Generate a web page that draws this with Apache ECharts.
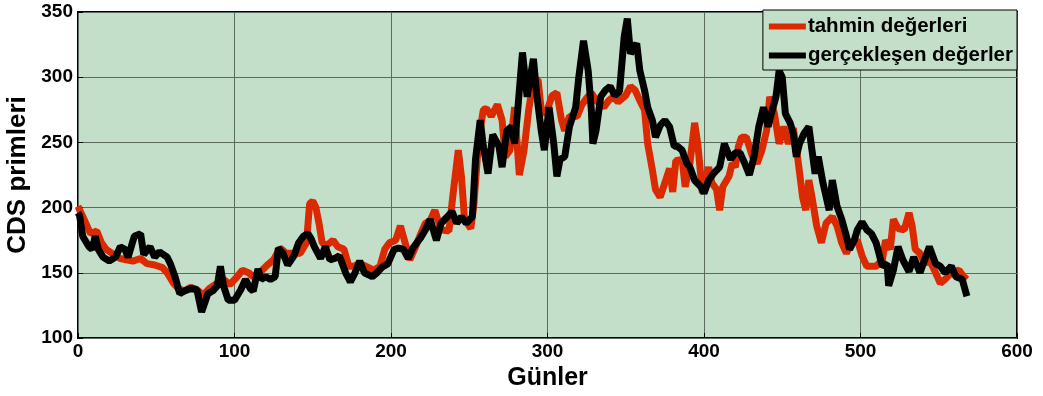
<!DOCTYPE html>
<html>

<head>
  <meta charset="utf-8" />
  <title></title>
  <script src="https://cdn.jsdelivr.net/npm/echarts@6/dist/echarts.min.js"></script>
</head>

<body style="margin:0;background:#fff;">
  <div id="main" style="width: 1043px;height:396px;"></div>
  <script type="text/javascript">
    // tahmin değerleri (red)
    var tahminDays = [0, 1, 5, 8, 12, 15, 18, 23, 27, 31, 35, 40, 44, 49, 54, 57, 61, 64, 68, 72, 76, 80, 84, 89, 93, 97, 101, 105, 109, 112, 116, 121, 125, 129, 133, 138, 142, 146, 148, 150, 152, 154, 156, 159, 163, 166, 170, 173, 176, 180, 184, 189, 193, 196, 199, 203, 206, 209, 212, 215, 219, 222, 225, 228, 232, 237, 240, 243, 245, 247, 251, 253, 256, 259, 261, 264, 268, 271, 273, 276, 279, 282, 285, 288, 291, 294, 296, 299, 303, 306, 309, 311, 314, 319, 322, 325, 328, 331, 336, 339, 342, 345, 350, 353, 356, 359, 362, 364, 367, 369, 372, 375, 378, 380, 382, 386, 388, 391, 394, 396, 399, 401, 403, 405, 408, 410, 412, 416, 418, 420, 422, 424, 427, 431, 434, 437, 440, 442, 445, 448, 451, 454, 457, 460, 463, 465, 467, 469, 472, 475, 478, 482, 485, 488, 491, 494, 498, 501, 504, 507, 510, 514, 516, 519, 521, 524, 528, 531, 533, 535, 538, 541, 544, 548, 551, 554, 558, 563, 566, 568];
    var tahminVals = [201, 200, 188, 180, 182, 173, 168, 164, 161, 160, 159, 161, 157, 156, 154, 150, 142, 138, 136, 139, 137, 133, 138, 142, 145, 141, 146, 152, 150, 147, 150, 156, 160, 169, 165, 165, 165, 173, 203, 205, 200, 188, 173, 171, 175, 170, 168, 155, 155, 157, 155, 152, 155, 168, 173, 175, 186, 173, 160, 168, 180, 188, 190, 198, 183, 182, 214, 244, 224, 191, 184, 203, 252, 275, 276, 270, 279, 267, 239, 244, 277, 225, 244, 275, 298, 298, 275, 272, 286, 288, 267, 259, 270, 270, 279, 284, 288, 282, 277, 282, 285, 281, 286, 293, 290, 282, 275, 249, 229, 214, 208, 219, 230, 212, 236, 237, 216, 234, 265, 249, 211, 221, 231, 219, 214, 198, 216, 224, 234, 231, 247, 254, 254, 239, 234, 244, 259, 285, 272, 249, 262, 249, 261, 237, 208, 198, 221, 208, 186, 173, 188, 193, 186, 173, 165, 173, 175, 163, 155, 155, 155, 160, 175, 168, 191, 184, 183, 196, 186, 168, 165, 157, 160, 150, 142, 145, 150, 152, 147, 145];

    // gerçekleşen değerler (black)
    var gercekDays = [0, 1, 3, 7, 9, 11, 13, 16, 20, 24, 27, 30, 32, 36, 40, 42, 46, 49, 52, 57, 59, 62, 65, 68, 72, 76, 79, 81, 83, 86, 89, 91, 93, 96, 100, 104, 107, 110, 112, 115, 117, 120, 123, 126, 128, 131, 134, 138, 141, 144, 147, 149, 151, 155, 158, 161, 164, 167, 171, 174, 177, 180, 183, 188, 191, 194, 198, 202, 205, 208, 211, 214, 219, 222, 225, 229, 232, 236, 239, 242, 245, 248, 252, 254, 257, 259, 262, 265, 269, 271, 274, 277, 279, 281, 284, 287, 291, 293, 296, 298, 301, 304, 306, 308, 311, 314, 318, 320, 323, 326, 328, 329, 331, 334, 337, 340, 343, 346, 349, 351, 353, 357, 359, 362, 364, 367, 369, 372, 375, 378, 381, 383, 386, 389, 391, 394, 398, 400, 403, 406, 410, 413, 417, 420, 423, 426, 429, 432, 435, 438, 441, 443, 446, 448, 450, 452, 455, 457, 459, 461, 464, 467, 469, 471, 473, 476, 480, 482, 485, 488, 491, 493, 496, 498, 501, 504, 507, 510, 514, 517, 518, 521, 524, 527, 531, 534, 538, 541, 544, 548, 551, 554, 558, 561, 565, 568];
    var gercekVals = [196, 194, 178, 170, 168, 178, 168, 162, 159, 162, 170, 168, 162, 178, 180, 164, 170, 162, 166, 162, 157, 147, 134, 136, 138, 137, 120, 127, 134, 136, 140, 155, 140, 129, 129, 137, 145, 138, 136, 153, 145, 147, 145, 147, 169, 165, 156, 163, 173, 178, 180, 176, 170, 161, 170, 160, 161, 163, 150, 143, 150, 159, 150, 147, 150, 154, 157, 168, 169, 168, 161, 169, 177, 183, 191, 175, 188, 193, 197, 188, 193, 188, 193, 237, 267, 247, 226, 256, 247, 231, 259, 262, 249, 275, 319, 285, 314, 288, 259, 244, 277, 249, 224, 237, 239, 262, 277, 300, 328, 305, 275, 249, 259, 285, 290, 293, 286, 289, 331, 345, 318, 326, 305, 290, 277, 267, 254, 263, 267, 262, 247, 247, 244, 234, 231, 221, 216, 211, 221, 226, 231, 249, 237, 242, 242, 234, 225, 239, 262, 277, 262, 272, 285, 305, 300, 272, 265, 257, 239, 249, 257, 262, 244, 226, 239, 219, 198, 221, 201, 191, 178, 168, 175, 183, 189, 183, 180, 173, 155, 157, 140, 152, 170, 160, 151, 162, 150, 160, 170, 157, 155, 150, 155, 147, 145, 132];

    var xTicks = { min: 0, max: 600, interval: 100 };
    var yTicks = { min: 100, max: 350, interval: 50 };

    function pairs(days, vals) {
      return days.map(function (d, i) { return [d, vals[i]]; });
    }

    var font = '"Liberation Sans", Arial, sans-serif';
    var chart = echarts.init(document.getElementById('main'));
    var option = {
      animation: false,
      textStyle: { fontFamily: font },
      grid: {
        left: 78, right: 26, top: 12, bottom: 58,
        outerBoundsMode: 'none',
        containLabel: false,
        show: true,
        backgroundColor: '#c3dfca',
        borderColor: '#000',
        borderWidth: 2
      },
      legend: {
        right: 26, top: 10,
        orient: 'vertical',
        backgroundColor: '#c3dfca',
        borderColor: '#000',
        borderWidth: 1,
        borderRadius: 0,
        padding: [6, 4, 4, 6],
        itemGap: 8,
        itemWidth: 37,
        itemHeight: 6,
        icon: 'rect',
        textStyle: { fontFamily: font, fontWeight: 'bold', fontSize: 20.5, color: '#000', padding: [0, 0, 0, -3] },
        data: ['tahmin değerleri', 'gerçekleşen değerler']
      },
      xAxis: {
        type: 'value',
        min: xTicks.min, max: xTicks.max, interval: xTicks.interval,
        name: 'Günler',
        nameLocation: 'middle',
        nameGap: 28,
        nameTextStyle: { fontFamily: font, fontWeight: 'bold', fontSize: 25, color: '#000' },
        axisLine: { show: false },
        axisTick: { inside: true, length: 5, lineStyle: { color: '#000' } },
        axisLabel: { fontFamily: font, fontWeight: 'bold', fontSize: 19, color: '#000', margin: 4 },
        splitLine: { show: true, lineStyle: { color: '#5c6b60', width: 1 } }
      },
      yAxis: {
        type: 'value',
        min: yTicks.min, max: yTicks.max, interval: yTicks.interval,
        name: 'CDS primleri',
        nameLocation: 'middle',
        nameGap: 46,
        nameTextStyle: { fontFamily: font, fontWeight: 'bold', fontSize: 26, color: '#000' },
        axisLine: { show: false },
        axisTick: { inside: true, length: 5, lineStyle: { color: '#000' } },
        axisLabel: { fontFamily: font, fontWeight: 'bold', fontSize: 19, color: '#000', margin: 5 },
        splitLine: { show: true, lineStyle: { color: '#5c6b60', width: 1 } }
      },
      series: [
        {
          name: 'tahmin değerleri',
          type: 'line',
          showSymbol: false,
          color: '#dc2a00',
          lineStyle: { width: 7, color: '#dc2a00' },
          data: pairs(tahminDays, tahminVals)
        },
        {
          name: 'gerçekleşen değerler',
          type: 'line',
          showSymbol: false,
          color: '#000',
          lineStyle: { width: 7, color: '#000' },
          data: pairs(gercekDays, gercekVals)
        }
      ]
    };
    chart.setOption(option);
  </script>
</body>

</html>
